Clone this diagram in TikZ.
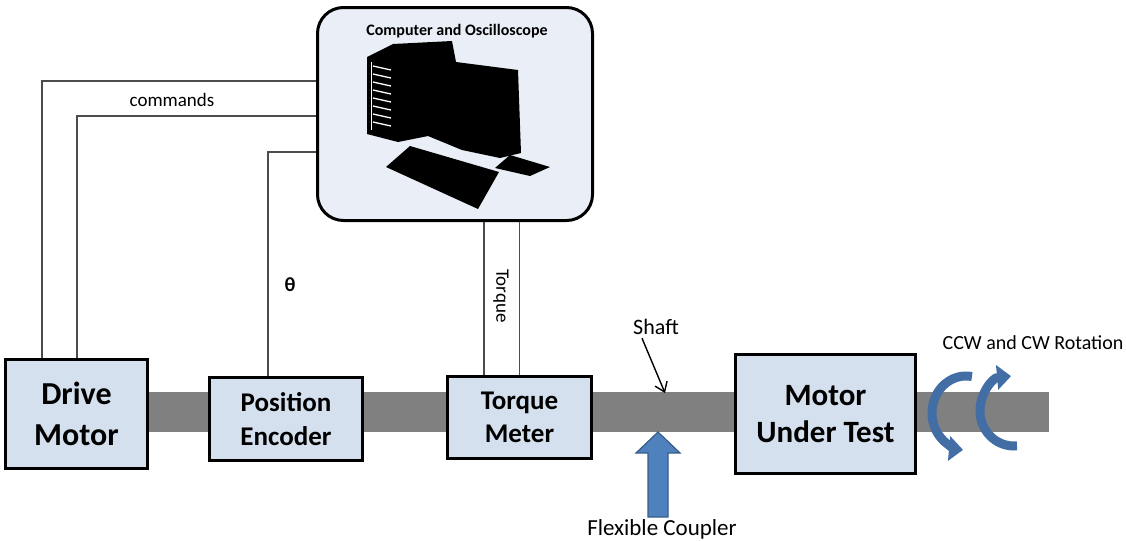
\documentclass[tikz,border=0pt]{standalone}
\usepackage{fontspec}
\setmainfont{Carlito}
\usetikzlibrary{arrows.meta,positioning}

\definecolor{boxfill}{RGB}{213,224,238}
\definecolor{pcfill}{RGB}{234,239,247}
\definecolor{shaftgray}{RGB}{128,128,128}
\definecolor{arrowblue}{RGB}{79,129,189}
\definecolor{arrowedge}{RGB}{56,93,138}
\definecolor{rotblue}{RGB}{66,110,165}

\tikzset{
    block/.style = {draw = black, line width = 3pt, fill = boxfill, align = center, inner sep = 0pt},
    wire/.style = {draw = black!70, line width = 1.4pt},
    rotarrow/.style = {draw = rotblue, line width = 9pt, -{Triangle[width = 24pt, length = 14pt]}},
}

\begin{document}
\begin{tikzpicture}[x = 1pt, y = -1pt]
                \useasboundingbox (0, 0) rectangle (1126, 541);

                % shaft running under all the blocks
                \fill [shaftgray] (149, 392) rectangle (1049, 432);

                % signal lines to the computer
                \node [draw, line width = 3pt, fill = pcfill, rounded corners = 26pt,
                       minimum width = 275pt, minimum height = 213pt] (pc) at (455, 114) {};

                \node [block, minimum width = 142pt, minimum height = 109pt,
                       font = \bfseries\fontsize{32}{41}\selectfont] (drive) at (76.5, 414) {Drive\\Motor};
                \node [block, minimum width = 153pt, minimum height = 83pt,
                       font = \bfseries\fontsize{27}{34}\selectfont] (encoder) at (286, 419) {Position\\Encoder};
                \node [block, minimum width = 144pt, minimum height = 82pt,
                       font = \bfseries\fontsize{27}{33}\selectfont] (torque) at (519.5, 417.5) {Torque\\Meter};
                \node [block, minimum width = 180pt, minimum height = 119pt,
                       font = \bfseries\fontsize{31}{37}\selectfont] (mut) at (825.5, 414) {Motor\\Under Test};

                \draw [wire] ([yshift = 33pt]pc.west) -| ([xshift = -34.5pt]drive.north);
                \draw [wire] ([yshift = -2pt]pc.west) -| ([xshift = 0.5pt]drive.north);
                \draw [wire] ([yshift = -38pt]pc.west) -| ([xshift = -18pt]encoder.north);
                \path ([xshift = -35.5pt]torque.north) coordinate (tqa)
                      (torque.north) coordinate (tqb);
                \draw [wire] (tqa) -- (tqa |- pc.south);
                \draw [wire] (tqb) -- (tqb |- pc.south);

                % computer clip art
                \fill [black]
                    (367, 57) -- (393, 44) -- (452, 41) -- (456, 62) -- (518, 70)
                    -- (521, 153) -- (500, 158) -- (462, 150) -- (428, 136)
                    -- (398, 142) -- (367, 134) -- cycle;
                \fill [black] (386, 167) -- (410, 146) -- (499, 172) -- (478, 209) -- cycle;
                \fill [black] (495, 168) -- (510, 155) -- (550, 167) -- (530, 176) -- cycle;
                \draw [white, line width = 1pt] (371, 62) -- (371, 130);
                \foreach \vy in {66, 74, ..., 122}
                    \draw [white, line width = 1.3pt] (373, \vy) -- (391, {\vy + 4});
                \node [font = \bfseries\fontsize{16}{18}\selectfont] (pctitle) at (457, 31) {Computer and Oscilloscope};

                \node [font = \fontsize{19}{22}\selectfont] (cmdlbl) at (172, 100) {commands};
                \node [font = \bfseries\fontsize{20}{22}\selectfont] (thetalbl) at (290, 285) {θ};
                \node [rotate = -90, font = \fontsize{19}{22}\selectfont] (torquelbl) at (501, 296) {Torque};

                % shaft label and coupler
                \node [font = \fontsize{22}{24}\selectfont] (shaftlbl) at (656, 327) {Shaft};
                \coordinate (shaftpt) at (665, 393);
                \draw [line width = 1.4pt, -{Straight Barb[length = 9pt, width = 13pt]}]
                    ([xshift = -14pt]shaftlbl.south) -- (shaftpt);

                \coordinate (coupler) at (658, 432);
                \draw [fill = arrowblue, draw = arrowedge, line width = 1.2pt]
                    (coupler) -- ++(22, 21) -- ++(-12, 0) -- ++(0, 64) -- ++(-20, 0)
                    -- ++(0, -64) -- ++(-12, 0) -- cycle;
                \node [font = \fontsize{23}{26}\selectfont] (couplerlbl) at (662, 529) {Flexible Coupler};

                % rotation arrows on the free shaft end
                \node [font = \fontsize{20}{22}\selectfont] (rotlbl) at (1033, 343) {CCW and CW Rotation};
                \draw [rotarrow] (966, 413) ++(-80:34 and 37)
                    arc [start angle = -80, end angle = -265, x radius = 34, y radius = 37];
                \draw [rotarrow] (1014, 411) ++(85:34 and 35)
                    arc [start angle = 85, end angle = 265, x radius = 34, y radius = 35];
\end{tikzpicture}
\end{document}
